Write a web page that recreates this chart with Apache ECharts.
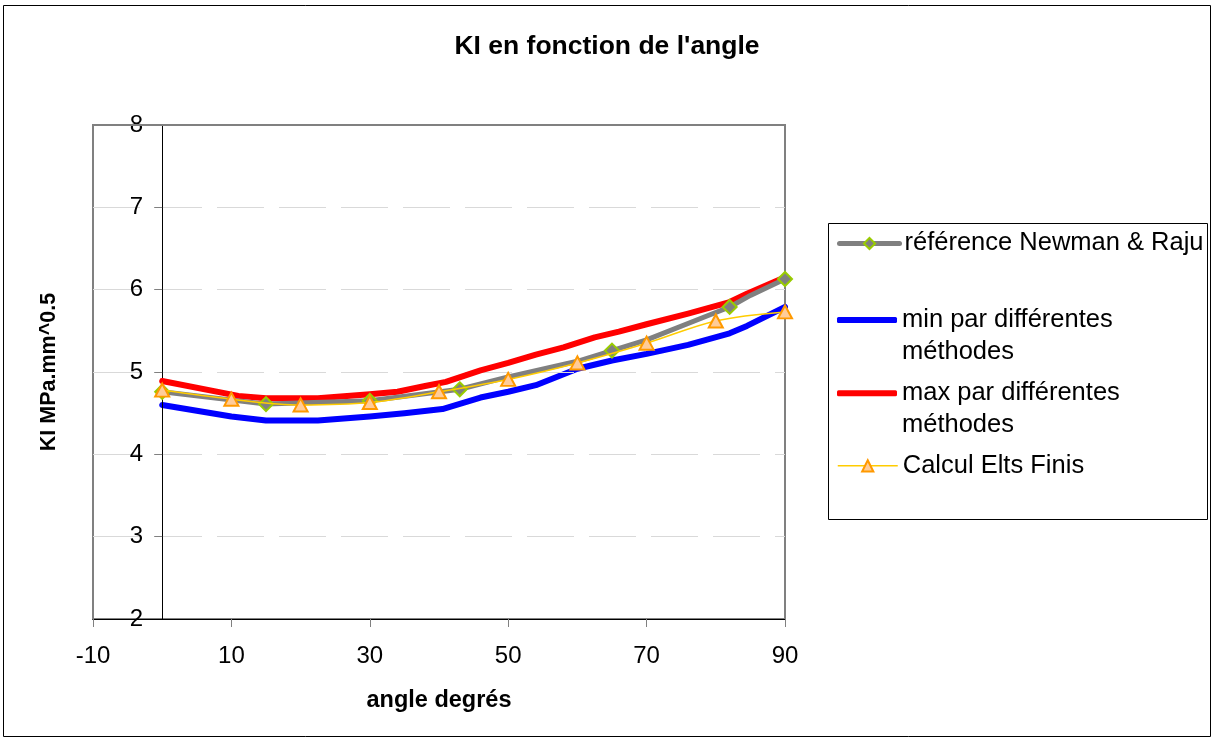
<!DOCTYPE html>
<html>
<head>
<meta charset="utf-8">
<script src="https://cdn.jsdelivr.net/npm/echarts@6/dist/echarts.min.js"></script>
<style>
html,body{margin:0;padding:0;background:#fff;}
#chart{width:1214px;height:740px;}
</style>
</head>
<body>
<div id="chart"></div>
<script>
// ---- data ----
const chartTitle = "KI en fonction de l'angle";
const xAxisName = "angle degrés";
const yAxisName = "KI MPa.mm^0.5";
const seriesNames = ["référence Newman & Raju", "min par différentes méthodes", "max par différentes méthodes", "Calcul Elts Finis"];

const refAngles = [0, 15, 30, 43, 50, 60, 65, 70, 82, 85, 90];
const refKI     = [4.76, 4.61, 4.65, 4.79, 4.94, 5.13, 5.26, 5.39, 5.79, 5.93, 6.13];
const refMarkedAngles = [0, 15, 30, 43, 65, 82, 90];

const minAngles = [0, 10, 15, 22.5, 30, 35, 40.5, 46, 50, 54, 60, 65, 70, 76, 82, 84.5, 90];
const minKI     = [4.60, 4.46, 4.41, 4.41, 4.46, 4.50, 4.55, 4.69, 4.76, 4.84, 5.04, 5.14, 5.22, 5.33, 5.47, 5.56, 5.79];

const maxAngles = [0, 11, 15, 22.5, 30, 34, 38, 41, 46, 50, 54, 58, 62.5, 66, 70, 76, 82, 84.5, 90];
const maxKI     = [4.89, 4.71, 4.68, 4.68, 4.73, 4.76, 4.83, 4.88, 5.02, 5.11, 5.21, 5.30, 5.42, 5.49, 5.58, 5.71, 5.85, 5.95, 6.15];

const efAngles = [0, 10, 20, 30, 40, 50, 60, 70, 80, 90];
const efKI     = [4.78, 4.67, 4.60, 4.63, 4.76, 4.91, 5.11, 5.35, 5.62, 5.73];

const xTicks = {min: -10, max: 90, interval: 20};
const yTicks = {min: 2, max: 8, interval: 1};

// ---- build ----
const pairs = (xs, ys) => xs.map((x, i) => [x, ys[i]]);
const refData = refAngles.map((a, i) => ({
  value: [a, refKI[i]],
  symbol: refMarkedAngles.indexOf(a) >= 0 ? 'diamond' : 'none'
}));

const FONT = 'Liberation Sans, Arial, sans-serif';
const GRID = {left: 93, right: 1214 - 785, top: 125, bottom: 740 - 619};
const plotW = 1214 - GRID.left - GRID.right;
// y axis crosses the x axis at angle 0
const yAxisShift = -plotW * (0 - xTicks.min) / (xTicks.max - xTicks.min);

const chart = echarts.init(document.getElementById('chart'), null, {renderer: 'canvas'});

function legendFor(name, top, extra) {
  return Object.assign({
    data: [name],
    left: 837,
    top: top,
    orient: 'vertical',
    padding: 0,
    itemWidth: 60,
    itemHeight: 14,
    itemGap: 0,
    selectedMode: false,
    textStyle: {fontFamily: FONT, fontSize: 25.5, color: '#000', lineHeight: 31.7},
    formatter: function (n) {
      if (n === seriesNames[1]) return '\nmin par différentes\nméthodes';
      if (n === seriesNames[2]) return '\nmax par différentes\nméthodes';
      return n;
    }
  }, extra || {});
}

const option = {
  backgroundColor: '#fff',
  animation: false,
  title: {
    text: chartTitle,
    left: 'center',
    top: 28,
    textStyle: {fontFamily: FONT, fontSize: 26.5, fontWeight: 'bold', color: '#000'}
  },
  graphic: [
    {type: 'rect', shape: {x: 3.5, y: 5.5, width: 1207, height: 731}, style: {fill: 'none', stroke: '#000', lineWidth: 1}, z: -1},
    {type: 'rect', shape: {x: 828.5, y: 223.5, width: 379, height: 296}, style: {fill: 'none', stroke: '#000', lineWidth: 1}, z: 1}
  ],
  legend: [
    legendFor(seriesNames[0], 227.6, {lineStyle: {width: 5, color: '#808080', cap: 'round'}}),
    legendFor(seriesNames[1], 272.5, {icon: 'roundRect', itemHeight: 6}),
    legendFor(seriesNames[2], 345.8, {icon: 'roundRect', itemHeight: 6}),
    legendFor(seriesNames[3], 450, {lineStyle: {width: 1.5, color: '#ffcc00'}})
  ],
  grid: {
    left: GRID.left, right: GRID.right, top: GRID.top, bottom: GRID.bottom,
    containLabel: false, outerBoundsMode: 'none',
    show: true, borderColor: '#808080', borderWidth: 2, backgroundColor: 'transparent'
  },
  xAxis: [{
    type: 'value',
    min: xTicks.min, max: xTicks.max, interval: xTicks.interval,
    name: xAxisName,
    nameLocation: 'middle',
    nameGap: 70,
    nameTextStyle: {fontFamily: FONT, fontSize: 23.5, fontWeight: 'bold', color: '#000'},
    axisLine: {onZero: false, lineStyle: {color: '#000', width: 1}},
    axisTick: {show: true, length: 8, lineStyle: {color: '#808080', width: 1}},
    axisLabel: {fontFamily: FONT, fontSize: 24, color: '#000', margin: 25},
    splitLine: {show: false},
    z: 4
  }, {
    type: 'value', position: 'top',
    min: xTicks.min, max: xTicks.max, interval: xTicks.interval,
    axisLine: {show: true, onZero: false, lineStyle: {color: '#808080', width: 2}},
    axisTick: {show: false}, axisLabel: {show: false}, splitLine: {show: false},
    z: 4
  }],
  yAxis: [{
    type: 'value',
    min: yTicks.min, max: yTicks.max, interval: yTicks.interval,
    offset: yAxisShift,
    name: yAxisName,
    nameLocation: 'middle',
    nameGap: 102,
    nameRotate: 90,
    nameTextStyle: {fontFamily: FONT, fontSize: 21.5, fontWeight: 'bold', color: '#000'},
    axisLine: {show: true, onZero: false, lineStyle: {color: '#000', width: 1}},
    axisTick: {show: true, length: 8, lineStyle: {color: '#808080', width: 1}},
    axisLabel: {fontFamily: FONT, fontSize: 24, color: '#000', margin: 19},
    splitLine: {show: true, lineStyle: {color: '#d9d9d9', width: 1, type: [47, 15]}},
    z: 3
  }],
  series: [
    {
      name: seriesNames[1], type: 'line', data: pairs(minAngles, minKI),
      symbol: 'none', lineStyle: {color: '#0000ff', width: 6, cap: 'round', join: 'round'},
      itemStyle: {color: '#0000ff'}, z: 2
    },
    {
      name: seriesNames[2], type: 'line', data: pairs(maxAngles, maxKI),
      symbol: 'none', lineStyle: {color: '#ff0000', width: 6, cap: 'round', join: 'round'},
      itemStyle: {color: '#ff0000'}, z: 3
    },
    {
      name: seriesNames[0], type: 'line', data: refData,
      symbol: 'diamond', symbolSize: 14, showAllSymbol: true,
      lineStyle: {color: '#808080', width: 5, cap: 'round', join: 'round'},
      itemStyle: {color: '#808080', borderColor: '#99cc00', borderWidth: 2}, z: 4
    },
    {
      name: seriesNames[3], type: 'line', data: pairs(efAngles, efKI),
      smooth: 0.35,
      symbol: 'triangle', symbolSize: [14, 13], showAllSymbol: true,
      lineStyle: {color: '#ffcc00', width: 1.5},
      itemStyle: {color: '#ffcc99', borderColor: '#ff9900', borderWidth: 2}, z: 5
    }
  ]
};
chart.setOption(option);
</script>
</body>
</html>
